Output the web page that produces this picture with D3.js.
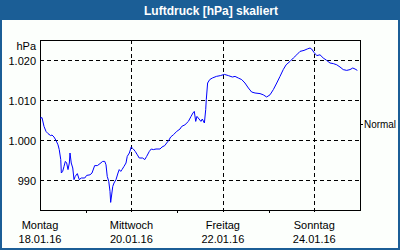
<!DOCTYPE html>
<html><head><meta charset="utf-8">
<script src="https://cdn.jsdelivr.net/npm/d3@7"></script>
<style>
html,body{margin:0;padding:0;background:#fff;}
svg{display:block;}
text{font-family:"Liberation Sans",Arial,sans-serif;}
</style></head>
<body>
<script>
// ---- data ----
const title = "Luftdruck [hPa] skaliert";
const unitLabel = "hPa";
const startDate = "2016-01-18";
const hours = [0,1.05,2.1,3.15,4.2,5.6,6.3,7.35,8.4,9.45,10.1,10.9,11.2,11.9,12.6,13.3,14.0,14.7,15.4,15.75,16.4,17.2,17.85,18.5,19.6,20.6,21.7,23.5,24.5,26.25,27.3,28.7,30.1,31.5,32.9,34.0,34.65,35.3,36.1,36.75,37.1,37.4,38.2,38.85,39.9,40.95,41.6,42.4,43.05,44.1,45.15,45.8,46.9,47.9,49.0,50.0,51.1,52.1,53.9,55.0,56.0,57.4,58.4,59.5,60.9,63.0,64.05,65.5,66.5,67.6,68.6,70.0,71.8,73.5,74.4,76.1,77.9,79.3,80.3,81.0,81.75,82.4,83.5,84.5,85.2,86.3,87.0,87.3,88.0,89.1,90.5,92.6,94.7,96.8,98.9,101.0,102.4,104.1,105.9,107.6,109.4,111.1,112.9,115.5,117.2,119.0,120.75,122.5,124.3,126.0,127.7,129.2,131.25,133.0,134.8,136.5,138.6,140.3,141.75,142.6,143.85,145.3,147.0,148.7,150.5,152.25,154.0,155.8,157.5,159.2,161.0,162.75,164.2,165.4,166.6];
const pressure = [1005.45,1005.6,1003.4,1002.15,1001.6,1001.1,1001.25,1000.75,999.9,998.8,997.6,995.1,991.75,992.15,993.4,994.65,994.25,992.6,994.25,996.75,994.25,993,990.1,990.9,991.6,990.1,990.5,990.5,991.15,991.3,991.75,993.6,993.6,994.1,994.65,994.65,993.8,990.9,989.65,987.15,984.4,985.5,988.4,989.25,990.1,991.75,992.6,992.15,992.6,993.4,994.25,995.9,996.75,998.25,997.75,997.15,996.3,995.5,995.5,995.1,995.9,997.15,997.75,997.6,997.75,997.75,998.25,998.6,999.25,999.9,1000.75,1001.3,1002.15,1002.75,1003.4,1003.8,1004.65,1005.9,1006.75,1007.15,1004.65,1005.9,1005.25,1004.65,1005.25,1004.25,1007.6,1010.1,1014.25,1015.1,1015.5,1015.9,1016.1,1016.4,1016.1,1015.75,1015.9,1015.5,1015.1,1014.25,1013,1012,1011.75,1011.6,1011.3,1010.75,1011.3,1012.6,1014.25,1015.9,1017.6,1018.8,1019.65,1020.5,1021.3,1022.15,1022.4,1022.75,1023,1022.75,1021.9,1021.1,1021.3,1020.5,1019.9,1019.25,1019.1,1018.8,1018.25,1017.6,1017.4,1017.6,1018,1017.75,1017.4];
const yTicks = [990,1000,1010,1020];
const yTickLabels = ["990","1.000","1.010","1.020"];
const xMajorDays = ["2016-01-20","2016-01-22","2016-01-24"];
const xMinorDays = ["2016-01-19","2016-01-21","2016-01-23"];
const xLabelDays = ["2016-01-18","2016-01-20","2016-01-22","2016-01-24"];
const xLabelWeekday = ["Montag","Mittwoch","Freitag","Sonntag"];
const xLabelDate = ["18.01.16","20.01.16","22.01.16","24.01.16"];
const normalValue = 1004;
const normalLabel = "Normal";

// ---- layout ----
const W=400,H=250;
const L=40,R=360,T=40,B=210;
const parse = d3.utcParse("%Y-%m-%d");
const t0 = parse(startDate);
const data = hours.map((h,i)=>({date:new Date(t0.getTime()+h*3600000), v:pressure[i]}));

const x = d3.scaleUtc().domain([t0, parse("2016-01-25")]).range([L,R]);
const y = d3.scaleLinear().domain([982.5,1025]).range([B,T]);

const svg = d3.select("body").append("svg").attr("width",W).attr("height",H);

// frame
svg.append("rect").attr("x",0).attr("y",0).attr("width",W).attr("height",H).attr("fill","#1b5e96");
svg.append("rect").attr("x",2).attr("y",20).attr("width",W-4).attr("height",H-22).attr("fill","#fcfffc");
svg.append("text").attr("x",211).attr("y",14.5).attr("text-anchor","middle")
  .attr("fill","#fff").attr("font-weight","bold").attr("font-size","12px").text(title);

const g = svg.append("g").attr("shape-rendering","crispEdges");

// horizontal grid
g.selectAll("line.hg").data(yTicks).join("line")
  .attr("x1",L).attr("x2",R).attr("y1",d=>y(d)+0.5).attr("y2",d=>y(d)+0.5)
  .attr("stroke","#000").attr("stroke-dasharray","4,3");
// vertical grid (major days)
g.selectAll("line.vg").data(xMajorDays).join("line")
  .attr("x1",d=>Math.round(x(parse(d)))+0.5).attr("x2",d=>Math.round(x(parse(d)))+0.5)
  .attr("y1",T).attr("y2",B+3)
  .attr("stroke","#000").attr("stroke-dasharray","4,3");
// minor ticks
g.selectAll("line.mt").data(xMinorDays).join("line")
  .attr("x1",d=>Math.round(x(parse(d)))+0.5).attr("x2",d=>Math.round(x(parse(d)))+0.5)
  .attr("y1",B).attr("y2",B+3).attr("stroke","#000");
// plot box
g.append("rect").attr("x",L+0.5).attr("y",T+0.5).attr("width",R-L).attr("height",B-T)
  .attr("fill","none").attr("stroke","#000");

// y axis labels
const yAxis = d3.axisLeft(y).tickValues(yTicks).tickSize(0).tickPadding(4)
  .tickFormat((d,i)=>yTickLabels[i]);
const ya = svg.append("g").attr("transform",`translate(${L},0.5)`).call(yAxis);
ya.select(".domain").remove();
ya.selectAll("text").attr("font-family","Liberation Sans, Arial, sans-serif").attr("font-size","11px").attr("fill","#000");

svg.append("text").attr("x",36).attr("y",50).attr("text-anchor","end")
  .attr("font-size","11px").attr("fill","#000").text(unitLabel);

// x labels
svg.selectAll("text.xw").data(xLabelDays).join("text")
  .attr("x",d=>x(parse(d))).attr("y",229).attr("text-anchor","middle")
  .attr("font-size","11px").attr("fill","#000").text((d,i)=>xLabelWeekday[i]);
svg.selectAll("text.xd").data(xLabelDays).join("text")
  .attr("x",d=>x(parse(d))).attr("y",243).attr("text-anchor","middle")
  .attr("font-size","11px").attr("fill","#000").text((d,i)=>xLabelDate[i]);

// normal marker
svg.append("line").attr("shape-rendering","crispEdges")
  .attr("x1",R).attr("x2",R+3).attr("y1",Math.round(y(normalValue))+0.5).attr("y2",Math.round(y(normalValue))+0.5)
  .attr("stroke","#000");
svg.append("text").attr("x",R+4).attr("y",y(normalValue)+4).attr("font-size","11px")
  .attr("textLength",32).attr("lengthAdjust","spacingAndGlyphs")
  .attr("fill","#000").text(normalLabel);

// line
svg.append("path").datum(data)
  .attr("d",d3.line().x(d=>x(d.date)).y(d=>y(d.v)))
  .attr("fill","none").attr("stroke","#0000ff").attr("stroke-width",1);
</script>
</body></html>
